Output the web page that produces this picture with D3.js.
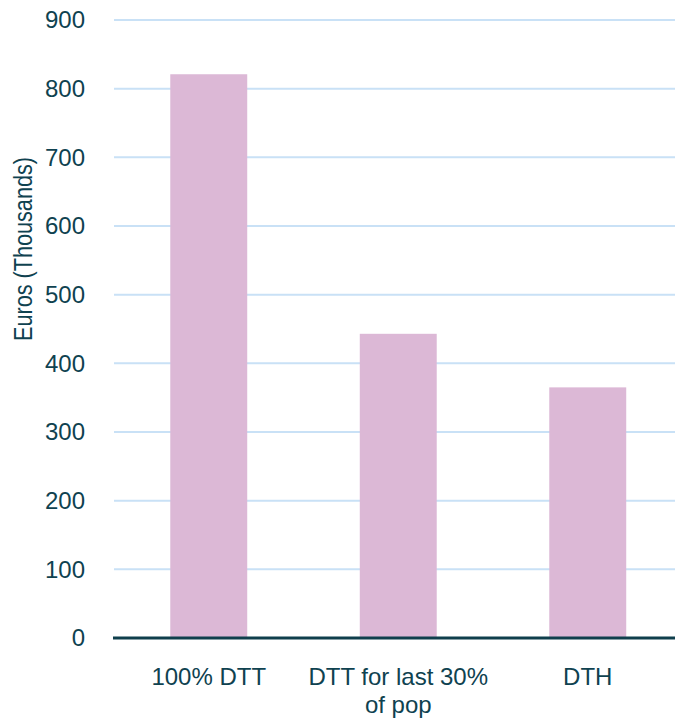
<!DOCTYPE html>
<html>
<head>
<meta charset="utf-8">
<script src="https://cdn.jsdelivr.net/npm/d3@7"></script>
<style>
  html, body { margin: 0; padding: 0; background: #ffffff; }
  svg { display: block; font-family: "Liberation Sans", Arial, sans-serif; }
</style>
</head>
<body>
<svg id="chart" width="675" height="722"></svg>
<script>
// Cost of each distribution option, in thousands of euros
const categories = ["100% DTT", "DTT for last 30%|of pop", "DTH"];
const values = [821, 443, 365];
const yTicks = [0, 100, 200, 300, 400, 500, 600, 700, 800, 900];
const yTitle = "Euros (Thousands)";

const svg = d3.select("#chart");
const textColor = "#0f4250";
const barColor = "#dcb8d6";
const gridColor = "#c9e1f6";
const fontSize = "24px";

const x = d3.scaleBand()
  .domain(categories)
  .range([114, 682.5])
  .paddingInner(0.594)
  .paddingOuter(0.297);

const y = d3.scaleLinear()
  .domain([0, 900])
  .range([638, 20]);

// horizontal gridlines
svg.append("g")
  .selectAll("line")
  .data(yTicks.filter(d => d > 0))
  .join("line")
  .attr("x1", 114).attr("x2", 675)
  .attr("y1", d => y(d)).attr("y2", d => y(d))
  .attr("stroke", gridColor)
  .attr("stroke-width", 2);

// y axis labels
const yAxis = svg.append("g")
  .attr("transform", "translate(114,0)")
  .call(d3.axisLeft(y).tickValues(yTicks).tickSize(0).tickPadding(29));
yAxis.select(".domain").remove();
yAxis.selectAll("text")
  .attr("fill", textColor)
  .style("font-size", fontSize)
  .style("font-family", "'Liberation Sans', Arial, sans-serif");

// bars
svg.append("g")
  .selectAll("rect")
  .data(values)
  .join("rect")
  .attr("x", (d, i) => x(categories[i]))
  .attr("width", x.bandwidth())
  .attr("y", d => y(d))
  .attr("height", d => y(0) - y(d))
  .attr("fill", barColor);

// baseline
svg.append("line")
  .attr("x1", 113).attr("x2", 675)
  .attr("y1", y(0)).attr("y2", y(0))
  .attr("stroke", "#0f3f4c")
  .attr("stroke-width", 3);

// category labels (wrapped on "|")
const xLabels = svg.append("g")
  .selectAll("text")
  .data(categories)
  .join("text")
  .attr("x", d => x(d) + x.bandwidth() / 2)
  .attr("y", 685)
  .attr("text-anchor", "middle")
  .attr("fill", textColor)
  .style("font-size", fontSize);
xLabels.each(function(d) {
  const parts = d.split("|");
  const t = d3.select(this);
  parts.forEach((p, i) => {
    t.append("tspan")
      .attr("x", x(d) + x.bandwidth() / 2)
      .attr("dy", i === 0 ? 0 : 28)
      .text(p);
  });
});

// y axis title (slightly condensed)
svg.append("text")
  .attr("transform", "translate(32,249) rotate(-90)")
  .attr("text-anchor", "middle")
  .attr("fill", textColor)
  .attr("textLength", 184)
  .attr("lengthAdjust", "spacingAndGlyphs")
  .style("font-size", "25px")
  .text(yTitle);
</script>
</body>
</html>
